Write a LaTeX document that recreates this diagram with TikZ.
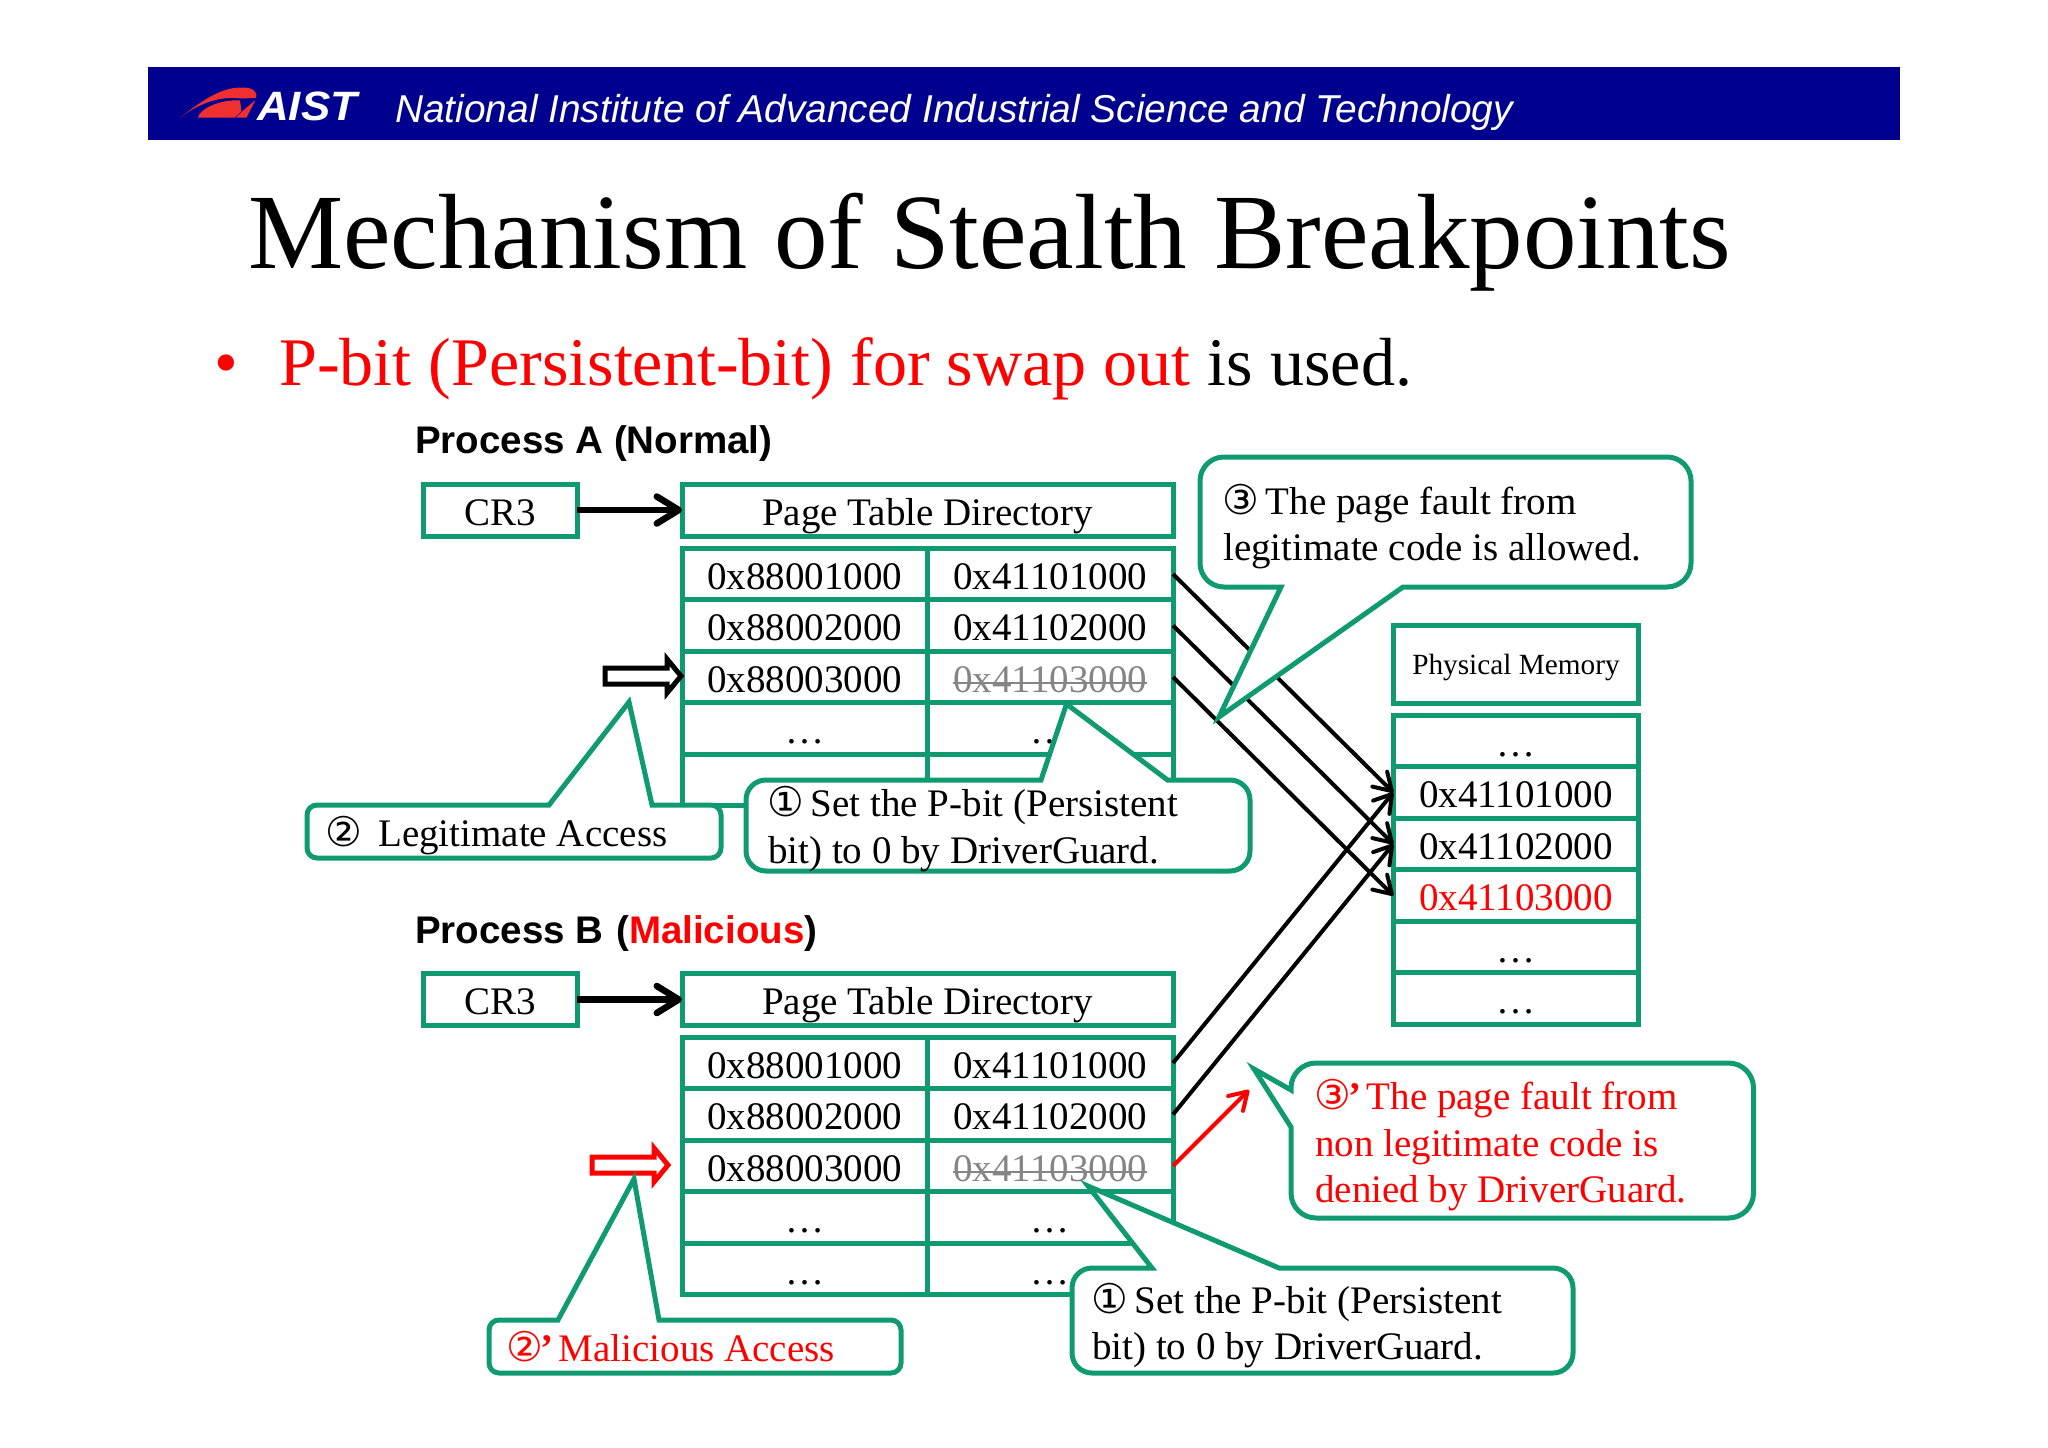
\documentclass[tikz,border=0pt]{standalone}
\usepackage{fontspec}
\usetikzlibrary{arrows.meta}
\setmainfont{Liberation Serif}
\newfontfamily\arialfont{Liberation Sans}
\newfontfamily\symbfont{DejaVu Sans}
\definecolor{aistnavy}{HTML}{00008F}
\definecolor{tealline}{HTML}{0F9A72}
\definecolor{aistred}{HTML}{F03030}
\definecolor{sred}{HTML}{FF0000}
\definecolor{sgray}{HTML}{858585}
\newcommand{\fs}[1]{\fontsize{#1}{#1}\selectfont}
\newcommand{\cnum}[1]{\makebox[33pt][l]{\hspace{-1pt}\symbfont\fs{41}#1}}
\newsavebox{\strkbox}
\newcommand{\strk}[1]{\sbox{\strkbox}{#1}\rlap{\rule[0.2em]{\wd\strkbox}{2.5pt}}\usebox{\strkbox}}
\newcommand{\bubble}[8]{\draw[bubble] ({#1+#5},#2) #6 -- ({#3-#5},#2)
  arc[start angle=270,end angle=360,radius=#5] -- (#3,{#4-#5})
  arc[start angle=0,end angle=90,radius=#5] #7 -- ({#1+#5},#4)
  arc[start angle=90,end angle=180,radius=#5] #8 -- (#1,{#2+#5})
  arc[start angle=180,end angle=270,radius=#5] -- cycle;}
\tikzset{
  x=1pt,y=-1pt,
  cell/.style={draw=tealline,line width=5pt,fill=white,inner sep=0pt,outer sep=0pt,
     font=\fs{39},text height=30pt,text depth=0pt,minimum height=51.5pt,line join=miter},
  lcol/.style={cell,minimum width=245.5pt},
  rcol/.style={cell,minimum width=245.5pt},
  pmcell/.style={cell,minimum width=245.5pt},
  bubble/.style={draw=tealline,line width=5pt,fill=white,line join=miter},
  btext/.style={anchor=base west,inner sep=0pt,font=\fs{39}},
  redtext/.style={btext,text=sred},
  heading/.style={anchor=base west,inner sep=0pt,font=\arialfont\bfseries\fs{38.5}},
  ptrarrow/.style={line width=4pt,-{Straight Barb[length=17pt,width=21pt,line width=4pt,round]}},
  bigarrow/.style={line width=6.5pt,-{Straight Barb[length=22pt,width=27pt,line width=6.5pt,round]}},
  openarrow/.style={line width=5pt,fill=white,line join=miter},
}
\begin{document}
\begin{tikzpicture}
\useasboundingbox (0,0) rectangle (2048,1448);
\fill[white] (0,0) rectangle (2048,1448);
% header
\fill[aistnavy] (148,67) rectangle (1900,140);
\fill[aistred] (179.3,118.3) .. controls (205,98) and (222,88) .. (240,87.5)
  .. controls (252,87) and (258,91) .. (256,98) -- (241,98.5)
  .. controls (222,96) and (200,102) .. (179.3,118.3) -- cycle;
\fill[aistred] (198,117.5) .. controls (200,108) and (222,99) .. (240,100.5)
  -- (241.5,111) -- (235,117.5) -- cycle;
\fill[aistred] (255.5,100) -- (246.5,117.5) -- (236,117.5) -- (242,111.5) -- cycle;
\node[anchor=base west,inner sep=0pt,text=white,font=\arialfont\bfseries\itshape\fs{41},xscale=1.07] (logotext) at (257,120) {AIST};
\node[anchor=base west,inner sep=0pt,text=white,font=\arialfont\itshape\fs{38.87}] (hdr) at (395,122) {National Institute of Advanced Industrial Science and Technology};
% title
\node[anchor=base west,inner sep=0pt,font=\fs{107}] (title) at (248,268) {Mechanism of Stealth Breakpoints};
\node[anchor=base west,inner sep=0pt,font=\fs{68},text=sred] (bullet) at (214,385) {•};
\node[anchor=base west,inner sep=0pt,font=\fs{68.1}] (sub) at (279,385) {\textcolor{sred}{P-bit (Persistent-bit) for swap out} is used.};
\node[heading] (procA) at (415,453.5) {Process A (Normal)};
\node[heading] (procB) at (415,943) {Process B\hspace{2pt} (\textcolor{sred}{Malicious})};
% process A boxes
\node[cell,minimum width=154pt,minimum height=52pt] (cr3a) at (500,510) {CR3};
\node[cell,minimum width=491pt,minimum height=52pt] (ptda) at (927.5,510) {Page Table Directory};
\node[lcol] (a1l) at (804.75,574) {0x88001000};
\node[rcol] (a1r) at (1050.25,574) {0x41101000};
\node[lcol] (a2l) at (804.75,625.5) {0x88002000};
\node[rcol] (a2r) at (1050.25,625.5) {0x41102000};
\node[lcol] (a3l) at (804.75,677) {0x88003000};
\node[rcol,text=sgray] (a3r) at (1050.25,677) {\strk{0x41103000}};
\node[lcol] (a4l) at (804.75,728.5) {…};
\node[rcol] (a4r) at (1050.25,728.5) {…};
\node[lcol] (a5l) at (804.75,780) {};
\node[rcol] (a5r) at (1050.25,780) {};
% process B boxes
\node[cell,minimum width=154pt,minimum height=52pt] (cr3b) at (500,999.5) {CR3};
\node[cell,minimum width=491pt,minimum height=52pt] (ptdb) at (927.5,999.5) {Page Table Directory};
\node[lcol] (b1l) at (804.75,1063) {0x88001000};
\node[rcol] (b1r) at (1050.25,1063) {0x41101000};
\node[lcol] (b2l) at (804.75,1114.5) {0x88002000};
\node[rcol] (b2r) at (1050.25,1114.5) {0x41102000};
\node[lcol] (b3l) at (804.75,1166) {0x88003000};
\node[rcol,text=sgray] (b3r) at (1050.25,1166) {\strk{0x41103000}};
\node[lcol] (b4l) at (804.75,1217.5) {…};
\node[rcol] (b4r) at (1050.25,1217.5) {…};
\node[lcol] (b5l) at (804.75,1269) {…};
\node[rcol] (b5r) at (1050.25,1269) {…};
% physical memory
\node[cell,minimum width=245.5pt,minimum height=78pt,font=\fs{29.3},text height=21pt] (pmh) at (1516,664) {Physical Memory};
\node[pmcell] (pm0) at (1516,741) {…};
\node[pmcell] (pm1) at (1516,792.5) {0x41101000};
\node[pmcell] (pm2) at (1516,844) {0x41102000};
\node[pmcell,text=sred] (pm3) at (1516,895.5) {0x41103000};
\node[pmcell] (pm4) at (1516,947) {…};
\node[pmcell] (pm5) at (1516,998.5) {…};
% arrows
\draw[bigarrow] (cr3a.east) -- (ptda.west);
\draw[bigarrow] (cr3b.east) -- (ptdb.west);
\draw[ptrarrow] (a1r.east) -- (pm1.west);
\draw[ptrarrow] (a2r.east) -- (pm2.west);
\draw[ptrarrow] (a3r.east) -- (pm3.west);
\draw[ptrarrow] (b1r.east) -- (pm1.west);
\draw[ptrarrow] (b2r.east) -- (pm2.west);
\coordinate (deny) at (1249,1090);
\draw[ptrarrow,draw=sred] (b3r.east) -- (deny);
% open arrows
\draw[openarrow] (605,668) -- (667,668) -- (667,659) -- (681,676) -- (667,693) -- (667,684) -- (605,684) -- cycle;
\draw[openarrow,draw=sred] (592,1157) -- (654,1157) -- (654,1148) -- (668,1165) -- (654,1182) -- (654,1173) -- (592,1173) -- cycle;
% callouts
\bubble{307}{805}{721}{858}{10}{-- (549,805) -- (629,702) -- (652,805)}{}{}
\bubble{746}{780}{1250}{871}{20}{-- (1041,780) -- (1066.5,704) -- (1167.5,780)}{}{}
\bubble{1200}{457}{1691}{587}{24}{}{-- (1403,587) -- (1219,717) -- (1281,587)}{}
\bubble{489}{1320}{901}{1373}{10}{-- (558,1320) -- (634,1179) -- (659,1320)}{}{}
\bubble{1072}{1268}{1573}{1373}{20}{-- (1152,1268) -- (1088,1186) -- (1279,1268)}{}{}
\bubble{1291}{1063}{1753.5}{1218}{25}{}{}{-- (1291,1127) -- (1254,1069) -- (1291,1090)}
% callout text
\node[btext] (t2a) at (326,846.5) {\cnum{②}\hspace{19pt}Legitimate Access};
\node[btext] (t1a1) at (768,816.5) {\cnum{①} Set the P-bit (Persistent};
\node[btext] (t1a2) at (768,863.5) {bit) to 0 by DriverGuard.};
\node[btext] (t3a1) at (1223,514) {\cnum{③} The page fault from};
\node[btext] (t3a2) at (1223,560) {legitimate code is allowed.};
\node[redtext] (t2b) at (507,1361.5) {\cnum{②}{\bfseries ’}\hspace{5.5pt}Malicious Access};
\node[btext] (t1b1) at (1092,1313.5) {\cnum{①} Set the P-bit (Persistent};
\node[btext] (t1b2) at (1092,1359) {bit) to 0 by DriverGuard.};
\node[redtext] (t3b1) at (1315,1109) {\cnum{③}{\bfseries ’}\hspace{5.5pt}The page fault from};
\node[redtext] (t3b2) at (1315,1156) {non legitimate code is};
\node[redtext] (t3b3) at (1315,1202) {denied by DriverGuard.};
\end{tikzpicture}
\end{document}
